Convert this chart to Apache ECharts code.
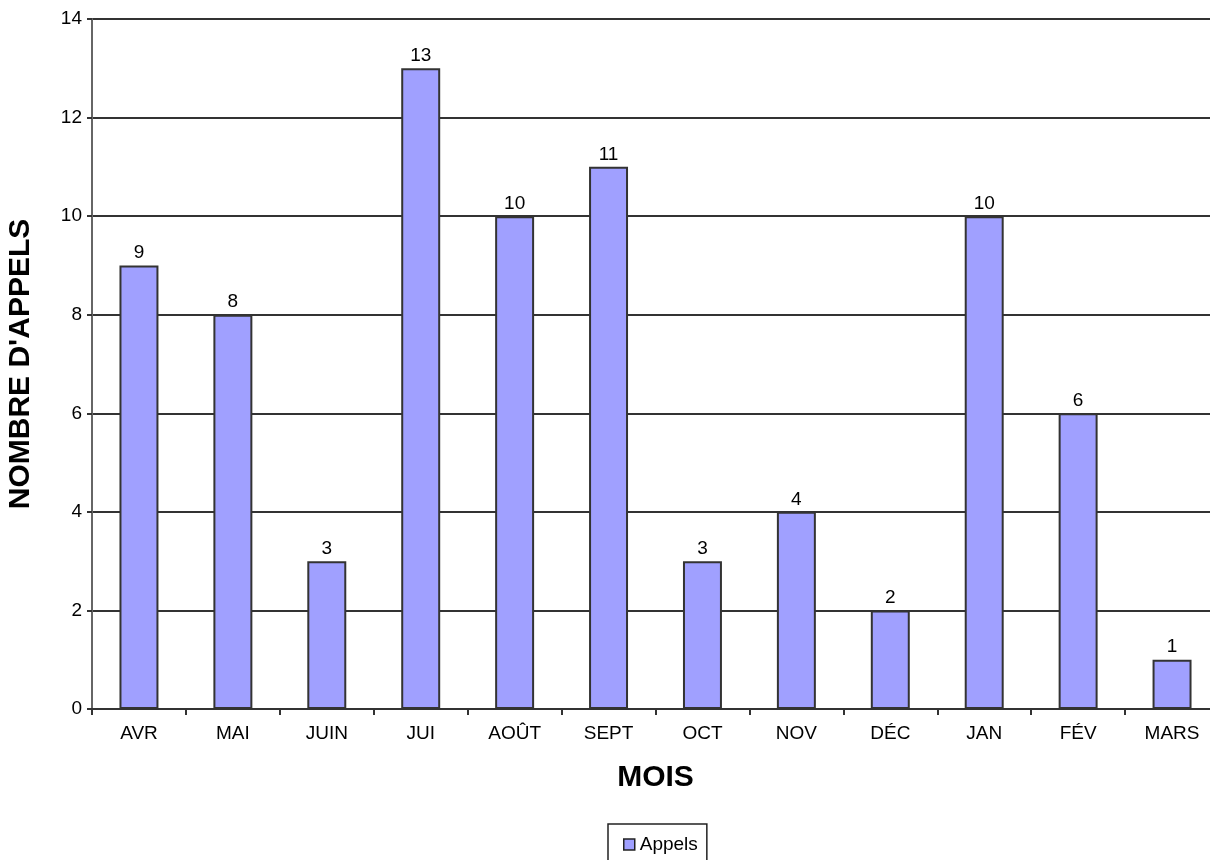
<!DOCTYPE html>
<html>
<head>
<meta charset="utf-8">
<script src="https://cdn.jsdelivr.net/npm/echarts@6/dist/echarts.min.js"></script>
<style>
  html, body { margin: 0; padding: 0; background: #fff; }
  #main { width: 1210px; height: 860px; }
</style>
</head>
<body>
<div id="main"></div>
<script>
// données du graphique
var mois = ['AVR', 'MAI', 'JUIN', 'JUI', 'AOÛT', 'SEPT', 'OCT', 'NOV', 'DÉC', 'JAN', 'FÉV', 'MARS'];
var appels = [9, 8, 3, 13, 10, 11, 3, 4, 2, 10, 6, 1];
var yTicks = [0, 2, 4, 6, 8, 10, 12, 14];

var myChart = echarts.init(document.getElementById('main'));
var option = {
    animation: false,
    textStyle: { fontFamily: 'Arial, "Liberation Sans", sans-serif' },
    grid: {
        left: 92,
        width: 1127,   // la zone déborde un peu à droite, comme l'original
        top: 19,
        bottom: 151,
        outerBoundsMode: 'none'
    },
    legend: {
        top: 824,
        left: 608,
        itemWidth: 11,
        itemHeight: 11,
        itemGap: 6,
        padding: [11, 9, 20, 15],
        borderColor: '#222',
        borderWidth: 1.5,
        borderRadius: 0,
        textStyle: { fontSize: 19, color: '#000' },
        data: [{ name: 'Appels', icon: 'rect', itemStyle: { borderColor: '#222', borderWidth: 1.5 } }]
    },
    xAxis: {
        type: 'category',
        data: mois,
        name: 'MOIS',
        nameLocation: 'middle',
        nameGap: 54,
        nameTextStyle: { fontSize: 30, fontWeight: 'bold', color: '#000' },
        axisLine: { lineStyle: { color: '#333', width: 2 } },
        axisTick: { show: true, length: 6, lineStyle: { color: '#333', width: 2 } },
        axisLabel: { fontSize: 19, color: '#000', margin: 15 }
    },
    yAxis: {
        type: 'value',
        min: yTicks[0],
        max: yTicks[yTicks.length - 1],
        interval: 2,
        name: "NOMBRE D'APPELS",
        nameLocation: 'middle',
        nameGap: 56,
        nameTextStyle: { fontSize: 30, fontWeight: 'bold', color: '#000' },
        axisLine: { show: true, lineStyle: { color: '#666', width: 2 } },
        axisTick: { show: true, length: 5, lineStyle: { color: '#333', width: 2 } },
        axisLabel: { fontSize: 19, color: '#000', margin: 10 },
        splitLine: { lineStyle: { color: '#333', width: 2 } }
    },
    series: [
        {
            name: 'Appels',
            type: 'bar',
            data: appels,
            barWidth: '41.5%',
            itemStyle: {
                color: '#a0a0ff',
                borderColor: '#333',
                borderWidth: 2
            },
            label: {
                show: true,
                position: 'top',
                distance: 3,
                fontSize: 19,
                color: '#000'
            }
        }
    ]
};
myChart.setOption(option);
</script>
</body>
</html>
